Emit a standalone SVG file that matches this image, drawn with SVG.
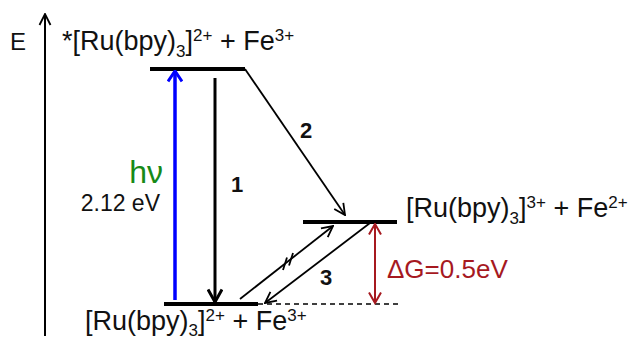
<svg xmlns="http://www.w3.org/2000/svg" width="632" height="340" viewBox="0 0 632 340">
<style>
text{font-family:"Liberation Sans",Arial,sans-serif;fill:#111}
.lbl{font-size:27px}
.s{font-size:17px}
.num{font-size:22px;font-weight:bold;text-anchor:middle}
.lvl{stroke:#000;stroke-width:4;fill:none}
.ar{stroke:#000;stroke-width:1.8;fill:none;marker-end:url(#ahk)}
</style>
<defs>
<marker id="ahk" viewBox="0 0 14 14" refX="13" refY="7" markerWidth="14" markerHeight="14" markerUnits="userSpaceOnUse" orient="auto"><path d="M2,1.5 L13,7 L2,12.5" fill="none" stroke="#000" stroke-width="1.8"/></marker>
<marker id="ahk2" viewBox="0 0 16 16" refX="14.5" refY="8" markerWidth="16" markerHeight="16" markerUnits="userSpaceOnUse" orient="auto"><path d="M2,1 L14.5,8 L2,15" fill="none" stroke="#000" stroke-width="3"/></marker>
<marker id="ahb" viewBox="0 0 14 16" refX="12.5" refY="8" markerWidth="14" markerHeight="16" markerUnits="userSpaceOnUse" orient="auto"><path d="M2,1 L12.5,8 L2,15" fill="none" stroke="#0000ff" stroke-width="3"/></marker>
<marker id="ahr" viewBox="0 0 14 14" refX="12.5" refY="7" markerWidth="14" markerHeight="14" markerUnits="userSpaceOnUse" orient="auto-start-reverse"><path d="M2,1 L12.5,7 L2,13" fill="none" stroke="#a6191f" stroke-width="2"/></marker>
</defs>
<g id="axis">
<text x="10" y="50" style="font-size:24px">E</text>
<line x1="45" y1="336" x2="45" y2="14" stroke="#000" stroke-width="2" marker-end="url(#ahk)"/>
</g>
<g id="excited">
<line class="lvl" x1="150" y1="69" x2="245" y2="69"/>
<text class="lbl" x="62" y="50">*[Ru(bpy)<tspan class="s" dy="7">3</tspan><tspan dy="-7">]</tspan><tspan class="s" dy="-9">2+</tspan><tspan dy="9"> + Fe</tspan><tspan class="s" dy="-9">3+</tspan></text>
</g>
<g id="intermediate">
<line class="lvl" x1="303" y1="222" x2="397" y2="222"/>
<text class="lbl" x="406" y="217">[Ru(bpy)<tspan class="s" dy="7">3</tspan><tspan dy="-7">]</tspan><tspan class="s" dy="-9">3+</tspan><tspan dy="9"> + Fe</tspan><tspan class="s" dy="-9">2+</tspan></text>
</g>
<g id="ground">
<line class="lvl" x1="164" y1="304" x2="258" y2="304"/>
<text class="lbl" x="85" y="330">[Ru(bpy)<tspan class="s" dy="6">3</tspan><tspan dy="-6">]</tspan><tspan class="s" dy="-9">2+</tspan><tspan dy="9"> + Fe</tspan><tspan class="s" dy="-9">3+</tspan></text>
</g>
<g id="connectors">
<line x1="258" y1="304" x2="402" y2="304" stroke="#000" stroke-width="1.3" stroke-dasharray="5,4"/>
<line x1="175" y1="300" x2="175" y2="71" stroke="#0000ff" stroke-width="3.5" marker-end="url(#ahb)"/>
<line x1="215" y1="78" x2="215" y2="302" stroke="#000" stroke-width="3" marker-end="url(#ahk2)"/>
<line class="ar" x1="245" y1="69" x2="345" y2="215"/>
<line class="ar" x1="240" y1="299" x2="333" y2="226"/>
<line class="ar" x1="370" y1="223" x2="265" y2="303"/>
<line x1="283" y1="270" x2="287" y2="257.5" stroke="#000" stroke-width="1.8"/>
<line x1="289" y1="265.5" x2="293" y2="253" stroke="#000" stroke-width="1.8"/>
<line x1="375" y1="224" x2="375" y2="303" stroke="#a6191f" stroke-width="2" marker-start="url(#ahr)" marker-end="url(#ahr)"/>
</g>
<g id="labels">
<text x="163" y="183" style="font-size:32px;fill:#178a17;text-anchor:end">hν</text>
<text x="160" y="211" style="font-size:23px;text-anchor:end">2.12 eV</text>
<text class="num" x="237" y="192">1</text>
<text class="num" x="306" y="138">2</text>
<text class="num" x="326" y="285">3</text>
<text x="387" y="278" style="font-size:26px;fill:#a6191f">ΔG=0.5eV</text>
</g>
</svg>
